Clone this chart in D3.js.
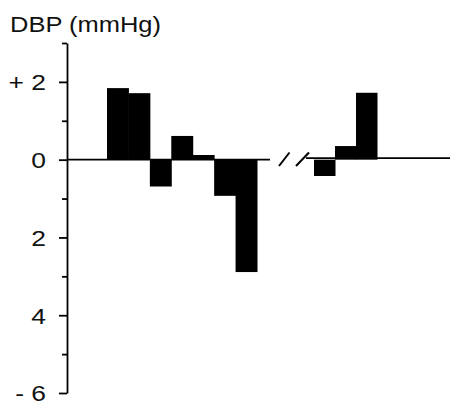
<!DOCTYPE html>
<html>
<head>
<meta charset="utf-8">
<script src="https://cdn.jsdelivr.net/npm/d3@7"></script>
<style>
  html, body { margin: 0; padding: 0; background: #fff; }
  svg { display: block; }
  text { font-family: "Liberation Sans", Arial, Helvetica, sans-serif; fill: #111; }
</style>
</head>
<body>
<svg id="chart" width="452" height="412"></svg>
<script>
// ---- data ----
const leftCategories = ["a1", "a2", "a3", "a4", "a5", "a6", "a7"];
const leftValues = [1.84, 1.71, -0.69, 0.61, 0.12, -0.93, -2.89];
const rightCategories = ["b1", "b2", "b3"];
const rightValues = [-0.42, 0.35, 1.72];
const majorTicks = [2, 0, -2, -4, -6];
const majorTickLabels = ["+ 2", "0", "2", "4", "- 6"];
const minorTicks = [3, 1, -1, -3, -5];
const yTitle = "DBP (mmHg)";

// ---- layout ----
const svg = d3.select("#chart");
const axisX = 67;
const y = d3.scaleLinear().domain([3, -6]).range([43, 393]);
const xLeft = d3.scaleBand().domain(leftCategories).range([107, 257]).padding(0);
const xRight = d3.scaleBand().domain(rightCategories).range([314, 377]).padding(0);
const y0 = y(0);

// title
svg.append("text")
  .attr("x", 10).attr("y", 31.5)
  .attr("font-size", 22)
  .attr("textLength", 151)
  .attr("lengthAdjust", "spacingAndGlyphs")
  .text(yTitle);

// bars
function drawBars(cats, vals, xs) {
  svg.append("g").selectAll("rect")
    .data(cats.map((c, i) => ({c, v: vals[i]})))
    .join("rect")
    .attr("x", d => xs(d.c))
    .attr("width", xs.bandwidth() + 0.5)
    .attr("y", d => Math.min(y(d.v), y0))
    .attr("height", d => Math.abs(y(d.v) - y0))
    .attr("fill", "#000");
}
drawBars(leftCategories, leftValues, xLeft);
drawBars(rightCategories, rightValues, xRight);

// zero baseline (broken)
svg.append("line").attr("x1", axisX).attr("x2", 270).attr("y1", y0).attr("y2", y0)
  .attr("stroke", "#000").attr("stroke-width", 1.8);
svg.append("line").attr("x1", 306).attr("x2", 450).attr("y1", y0 - 1.5).attr("y2", y0 - 1.5)
  .attr("stroke", "#000").attr("stroke-width", 1.8);
// break marks
[[279, 289.5], [296, 309]].forEach(([a, b]) => {
  svg.append("line").attr("x1", a).attr("y1", 166).attr("x2", b).attr("y2", 152.5)
    .attr("stroke", "#000").attr("stroke-width", 2);
});

// y axis: major ticks with labels
const sx = 1.2;
const yAxis = d3.axisLeft(y)
  .tickValues(majorTicks)
  .tickSize(8)
  .tickSizeOuter(0)
  .tickPadding(13)
  .tickFormat((d, i) => majorTickLabels[i]);
const gAxis = svg.append("g").attr("transform", `translate(${axisX},0)`).call(yAxis);
gAxis.select(".domain").attr("stroke", "#000").attr("stroke-width", 1.8);
gAxis.selectAll(".tick line").attr("stroke", "#000").attr("stroke-width", 1.8);
gAxis.selectAll(".tick text")
  .attr("font-family", "'Liberation Sans', Arial, sans-serif")
  .attr("font-size", 22)
  .attr("fill", "#111")
  .attr("x", -21 / sx)
  .attr("dy", "0.36em")
  .attr("transform", `scale(${sx},1)`);

// minor ticks
const yMinor = d3.axisLeft(y).tickValues(minorTicks).tickSize(5).tickSizeOuter(0).tickFormat("");
const gMinor = svg.append("g").attr("transform", `translate(${axisX},0)`).call(yMinor);
gMinor.select(".domain").remove();
gMinor.selectAll(".tick line").attr("stroke", "#000").attr("stroke-width", 1.8);
</script>
</body>
</html>
